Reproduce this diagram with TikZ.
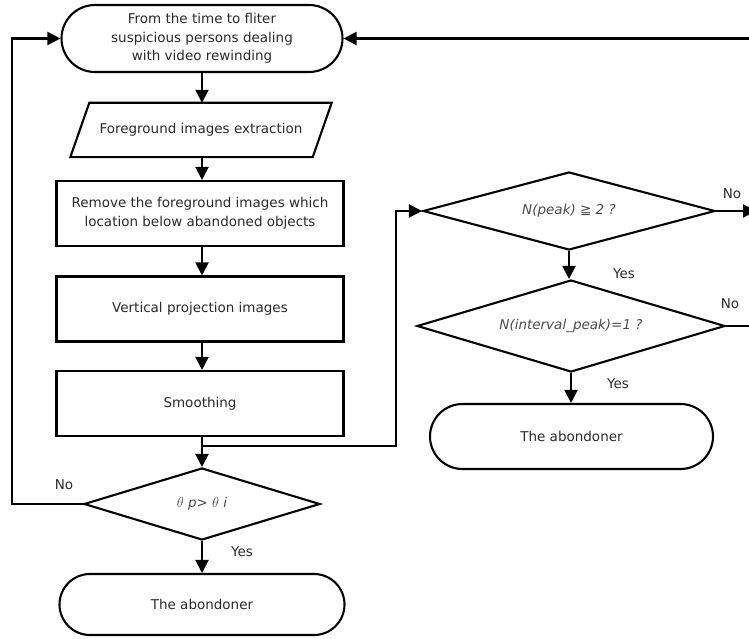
\documentclass[tikz,border=0pt]{standalone}
\usepackage{fontspec}
\setmainfont{DejaVu Sans}
\usetikzlibrary{arrows.meta,shapes.geometric,shapes.misc}
\definecolor{txt}{HTML}{2A2A2A}
\definecolor{itx}{HTML}{4A4A4A}
\newcommand{\mfs}{\fontsize{13.5}{18.5}\selectfont}
\begin{document}
\begin{tikzpicture}[x=1pt,y=-1pt,
  lw/.style={line width=2.1pt},
  boxnode/.style={draw, lw, rectangle, minimum width=287pt, minimum height=65pt, inner sep=0pt, align=center, font=\mfs, text=txt},
  termnode/.style={draw, lw, rounded rectangle, inner sep=0pt, align=center, font=\mfs, text=txt},
  dianode/.style={draw, lw, diamond, inner sep=0pt, align=center, font=\mfs\itshape, text=itx},
  arr/.style={lw, -{Triangle[length=13pt,width=13pt]}},
  lbl/.style={font=\mfs, text=txt, inner sep=0pt}
]
\useasboundingbox (0,0) rectangle (749,639);
\clip (0,0) rectangle (749,639);

% left column
\node[termnode, minimum width=281pt, minimum height=67pt] (t1) at (202,38.5)
  {From the time to fliter\\suspicious persons dealing\\with video rewinding};
\node[rectangle, minimum width=242pt, minimum height=54pt, inner sep=0pt, font=\mfs, text=txt] (p) at (201,130) {Foreground images extraction};
\draw[lw, line join=miter] ([xshift=-9.5pt]p.south west) -- ([xshift=-9.5pt]p.south east)
  -- ([xshift=9.5pt]p.north east) -- ([xshift=9.5pt]p.north west) -- cycle;
\node[boxnode] (r1) at (200,213.5) {Remove the foreground images which\\location below abandoned objects};
\node[boxnode] (r2) at (200,309) {Vertical projection images};
\node[boxnode] (r3) at (200,403.5) {Smoothing};
\node[dianode, aspect=3.28, minimum width=236pt, minimum height=72pt] (d1) at (202,504) {$\theta$ p> $\theta$ i};
\node[termnode, minimum width=285pt, minimum height=61pt] (t2) at (202,604.5) {The abondoner};

% right column
\node[dianode, aspect=3.74, minimum width=292pt, minimum height=78pt] (dA) at (569,211) {N(peak) ≧ 2 ?};
\node[dianode, aspect=3.35, minimum width=308pt, minimum height=92pt] (dB) at (571,326) {N(interval\_peak)=1 ?};
\node[termnode, minimum width=283pt, minimum height=65pt] (t3) at (571.5,436.5) {The abondoner};

% free ends
\coordinate (cR) at (749,38.5);
\coordinate (cL) at (12,504);
\coordinate (br) at (202,446);
\coordinate (cA) at (396,211);
\coordinate (eA) at (756,211);
\coordinate (eB) at (749,326);

% connectors
\draw[arr] (t1.south) -- (p.north -| t1.south);
\draw[arr] (p.south -| t1.south) -- (r1.north -| t1.south);
\draw[arr] (r1.south -| t1.south) -- (r2.north -| t1.south);
\draw[arr] (r2.south -| t1.south) -- (r3.north -| t1.south);
\draw[arr] (r3.south -| t1.south) -- (d1.north);
\draw[arr] (d1.south) -- (t2.north);
\draw[arr] (br) -| (cA) -- (dA.west);
\draw[arr] (d1.west) -- (cL) |- (t1.west);
\draw[arr] (cR) -- (t1.east);
\draw[arr] (dA.east) -- (eA);
\draw[arr] (dA.south) -- (dA.south |- dB.north);
\draw[lw] (dB.east) -- (eB);
\draw[arr] (dB.south) -- (dB.south |- t3.north);

% labels
\node[lbl] (n1) at (64,485) {No};
\node[lbl] (y1) at (242,552) {Yes};
\node[lbl] (n2) at (732,194) {No};
\node[lbl] (y2) at (624,274) {Yes};
\node[lbl] (n3) at (730,304) {No};
\node[lbl] (y3) at (618,384) {Yes};
\end{tikzpicture}
\end{document}
